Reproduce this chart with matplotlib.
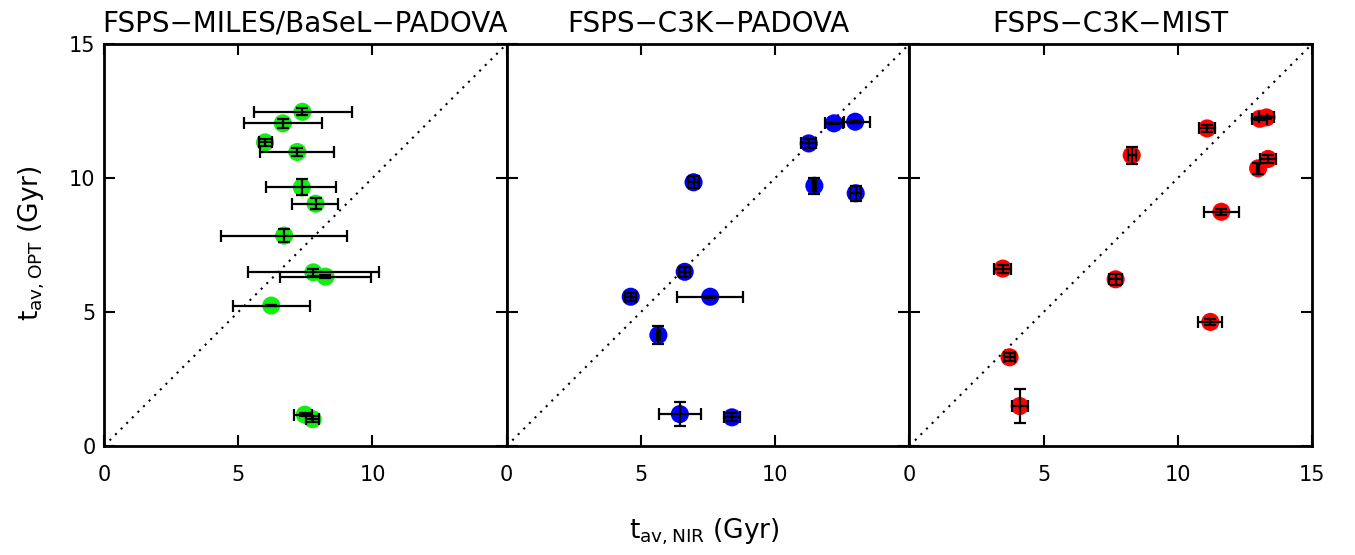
import matplotlib
matplotlib.use("Agg")
import matplotlib.pyplot as plt
import numpy as np

plt.rcParams['font.family'] = ['DejaVu Sans']

titles = ["FSPS\u2212MILES/BaSeL\u2212PADOVA", "FSPS\u2212C3K\u2212PADOVA", "FSPS\u2212C3K\u2212MIST"]
colors = ["#11ee11", "#0000ff", "#ff0000"]

# Panel 1: FSPS-MILES/BaSeL-PADOVA
x1 = [7.39, 6.66, 6.00, 7.20, 7.37, 7.88, 6.71, 7.80, 8.25, 6.23, 7.48, 7.77]
y1 = [12.47, 12.04, 11.33, 10.97, 9.65, 9.04, 7.85, 6.48, 6.32, 5.24, 1.17, 1.00]
xlo1 = [1.82, 1.44, 0.21, 1.38, 1.32, 0.86, 2.36, 2.43, 1.70, 1.43, 0.40, 0.23]
xhi1 = [1.84, 1.45, 0.27, 1.37, 1.29, 0.85, 2.36, 2.45, 1.69, 1.46, 0.27, 0.22]
ye1 = [0.13, 0.16, 0.14, 0.14, 0.30, 0.21, 0.24, 0.14, 0.05, 0.02, 0.05, 0.12]

# Panel 2: FSPS-C3K-PADOVA
x2 = [12.19, 12.98, 11.25, 6.96, 11.46, 13.00, 6.63, 4.62, 7.58, 5.65, 6.45, 8.39]
y2 = [12.04, 12.10, 11.29, 9.84, 9.71, 9.43, 6.50, 5.57, 5.57, 4.14, 1.19, 1.07]
xlo2 = [0.33, 0.43, 0.28, 0.20, 0.05, 0.20, 0.20, 0.20, 1.23, 0.05, 0.76, 0.30]
xhi2 = [0.34, 0.54, 0.28, 0.20, 0.05, 0.20, 0.20, 0.20, 1.22, 0.05, 0.77, 0.30]
ye2 = [0.03, 0.03, 0.18, 0.23, 0.29, 0.28, 0.18, 0.15, 0.03, 0.35, 0.46, 0.15]

# Panel 3: FSPS-C3K-MIST
x3 = [13.05, 13.30, 11.09, 8.28, 13.36, 12.99, 11.62, 3.48, 7.68, 11.21, 3.73, 4.11]
y3 = [12.21, 12.26, 11.85, 10.85, 10.71, 10.36, 8.74, 6.62, 6.22, 4.63, 3.31, 1.49]
xe3 = [0.28, 0.28, 0.30, 0.15, 0.30, 0.05, 0.65, 0.32, 0.25, 0.45, 0.20, 0.30]
ye3 = [0.05, 0.05, 0.12, 0.32, 0.15, 0.20, 0.12, 0.15, 0.20, 0.10, 0.15, 0.65]

panels = [
    (x1, y1, [xlo1, xhi1], ye1),
    (x2, y2, [xlo2, xhi2], ye2),
    (x3, y3, xe3, ye3),
]

ticks = [0, 5, 10, 15]

fig = plt.figure(figsize=(13.55, 5.55), dpi=100)
L, B, W, H = 104/1355, 1 - 446/555, 402.7/1355, 402/555

for i, (xs, ys, xe, ye) in enumerate(panels):
    ax = fig.add_axes([L + i*W, B, W, H])
    ax.set_xlim(0, 15)
    ax.set_ylim(0, 15)
    ax.plot([0, 15], [0, 15], color='black', linestyle=(0, (1, 2.8)), lw=1.5, zorder=1)
    ax.scatter(xs, ys, s=170, color=colors[i], edgecolors='none', zorder=2)
    ax.errorbar(xs, ys, xerr=xe, yerr=ye, fmt='none', ecolor='black',
                elinewidth=1.6, capsize=4.5, capthick=1.6, zorder=3)
    ax.set_xticks(ticks)
    ax.set_yticks(ticks)
    ax.tick_params(direction='in', length=8, width=1.5, top=True, right=True,
                   labelsize=15, pad=14, colors='black')
    ax.tick_params(axis='y', pad=6)
    if i < 2:
        ax.set_xticklabels(['0', '5', '10', ''])
    if i > 0:
        ax.set_yticklabels([])
    for s in ax.spines.values():
        s.set_linewidth(2)
    ax.set_title(titles[i], fontsize=20, pad=9)

fig.text(704/1355, 1 - 532/555, r'$\mathregular{t_{av,NIR}}$ (Gyr)', ha='center', va='center', fontsize=19)
fig.text(32/1355, 1 - 243/555, r'$\mathregular{t_{av,OPT}}$ (Gyr)', ha='center', va='center', fontsize=19, rotation=90)

fig.savefig('out.png', dpi=100)
